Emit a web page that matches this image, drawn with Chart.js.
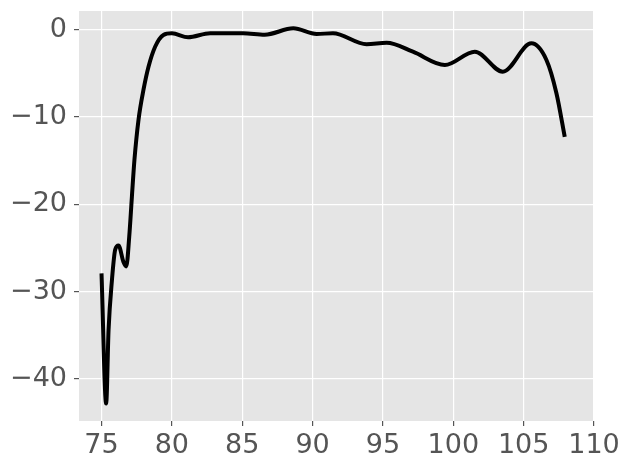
<!DOCTYPE html>
<html>
<head>
<meta charset="utf-8">
<script src="https://cdn.jsdelivr.net/npm/chart.js@4"></script>
<style>
html,body{margin:0;padding:0;background:#fff;}
#wrap{width:629px;height:470px;position:relative;}
</style>
</head>
<body>
<div id="wrap"><canvas id="c"></canvas></div>
<script>
const xValues = [75.0, 75.33, 75.5, 75.74, 75.97, 76.21, 76.56, 76.76, 76.97, 77.16, 77.34, 77.63, 77.98, 78.34, 78.81, 79.4, 80.0, 81.15, 82.72, 85.06, 86.6, 88.63, 90.29, 91.45, 93.84, 95.26, 97.13, 99.4, 101.53, 103.52, 105.55, 106.62, 107.33, 107.92];
const yValues = [-27.9, -42.8, -34.4, -28.7, -25.2, -24.7, -26.6, -27.1, -23.7, -19.1, -14.9, -10.3, -6.9, -4.24, -1.95, -0.6, -0.41, -0.87, -0.41, -0.41, -0.57, 0.16, -0.49, -0.41, -1.67, -1.49, -2.52, -4.04, -2.52, -4.81, -1.56, -3.47, -7.28, -12.26];
const xTicks = [75, 80, 85, 90, 95, 100, 105, 110];
const yTicks = [-40, -30, -20, -10, 0];

const points = xValues.map((x, i) => ({x: x, y: yValues[i]}));

const bgPlugin = {
  id: 'bg',
  beforeDraw(chart) {
    const {ctx, chartArea} = chart;
    ctx.save();
    ctx.fillStyle = '#E5E5E5';
    ctx.fillRect(chartArea.left, chartArea.top, chartArea.right - chartArea.left, chartArea.bottom - chartArea.top);
    ctx.restore();
  }
};

const fmt = v => (v < 0 ? '\u2212' + Math.abs(v) : String(v));
const font = {family: 'DejaVu Sans', size: 27};

new Chart(document.getElementById('c'), {
  type: 'line',
  data: {
    datasets: [{
      data: points,
      borderColor: '#000000',
      borderWidth: 4,
      pointRadius: 0,
      fill: false,
      cubicInterpolationMode: 'monotone'
    }]
  },
  options: {
    responsive: true,
    maintainAspectRatio: false,
    animation: false,
    layout: {padding: {top: 11, right: 35, left: 0, bottom: 0}},
    plugins: {legend: {display: false}, tooltip: {enabled: false}},
    scales: {
      x: {
        type: 'linear',
        min: 73.4,
        max: 110,
        afterBuildTicks: s => { s.ticks = xTicks.map(v => ({value: v})); },
        afterFit: s => { s.height = 49; s.paddingLeft = 0; s.paddingRight = 0; },
        grid: {color: '#FFFFFF', lineWidth: 1.2, tickColor: '#555555', tickLength: 5, drawTicks: true},
        border: {display: false},
        ticks: {font: font, color: '#555555', padding: 4, maxRotation: 0, callback: v => fmt(v)}
      },
      y: {
        type: 'linear',
        min: -44.8,
        max: 2.14,
        afterBuildTicks: s => { s.ticks = yTicks.map(v => ({value: v})); },
        afterFit: s => { s.width = 79; s.paddingTop = 0; s.paddingBottom = 0; },
        grid: {color: '#FFFFFF', lineWidth: 1.2, tickColor: '#555555', tickLength: 5},
        border: {display: false},
        ticks: {font: font, color: '#555555', padding: 7, callback: v => fmt(v)}
      }
    }
  },
  plugins: [bgPlugin]
});
</script>
</body>
</html>
